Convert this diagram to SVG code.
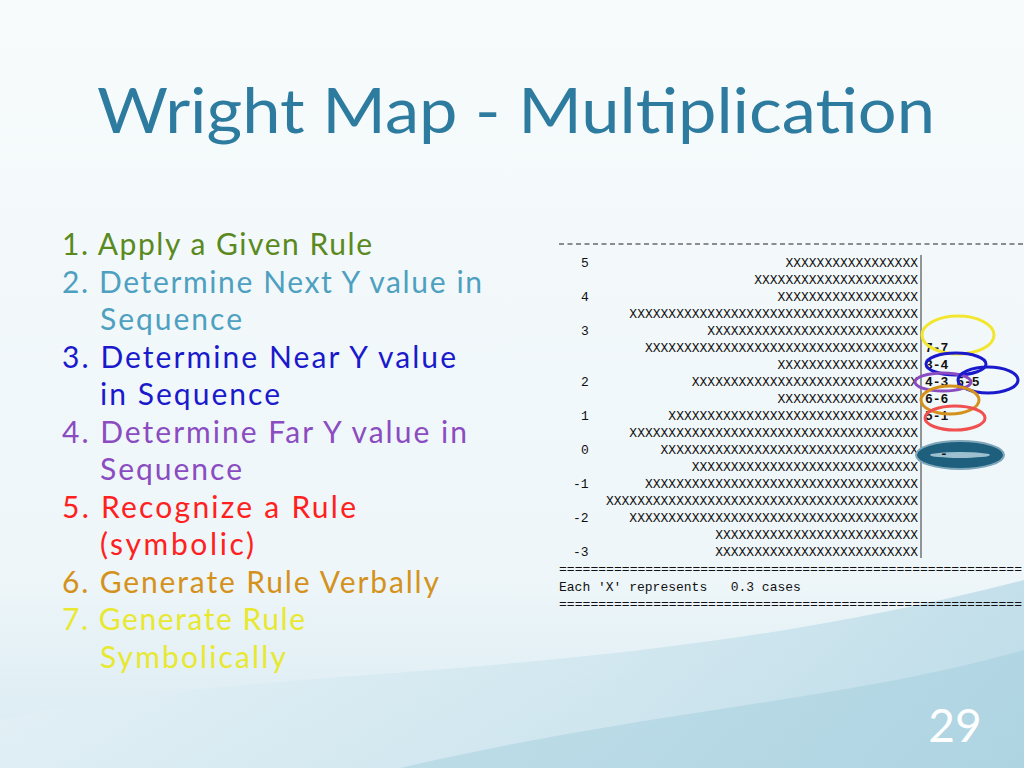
<svg xmlns="http://www.w3.org/2000/svg" width="1024" height="768" viewBox="0 0 1024 768">
<defs>
<linearGradient id="bg" x1="0" y1="0" x2="0" y2="1"><stop offset="0" stop-color="#f7fbfc"/><stop offset="0.75" stop-color="#eef6f9"/><stop offset="1" stop-color="#d7eaf1"/></linearGradient>
<linearGradient id="wave" x1="0" y1="0" x2="1" y2="0"><stop offset="0" stop-color="#e4f1f6"/><stop offset="0.6" stop-color="#c6e1ec"/><stop offset="1" stop-color="#a8d1e1"/></linearGradient>
<style>
.m{font-family:"Liberation Mono","DejaVu Sans Mono",monospace;font-size:13px;fill:#111}
.x{text-anchor:end}
.l{font-family:Lato,"Open Sans",sans-serif;font-size:30px}
.e{fill:none;stroke-width:3}
</style>
</defs>
<rect width="1024" height="768" fill="url(#bg)"/>
<path d="M0 720 C250 660 600 690 1024 580 L1024 768 L0 768 Z" fill="url(#wave)" opacity="0.6"/>
<path d="M400 768 C650 710 850 700 1024 650 L1024 768 Z" fill="#9fcbdc" opacity="0.45"/>
<text x="97" y="133" font-family="Lato,'Open Sans',sans-serif" font-size="62" fill="#2e7ba0" textLength="838" lengthAdjust="spacingAndGlyphs">Wright Map - Multiplication</text>
<g id="list" class="l">
<text x="62" y="255" fill="#5a8a1e" textLength="310">1. Apply a Given Rule</text>
<text x="62" y="293" fill="#4ea0c0" textLength="420">2. Determine Next Y value in</text>
<text x="100" y="330" fill="#4ea0c0" textLength="142">Sequence</text>
<text x="62" y="368" fill="#1a1acc" textLength="394">3.  Determine Near Y value</text>
<text x="100" y="405" fill="#1a1acc" textLength="180">in Sequence</text>
<text x="62" y="443" fill="#8a4cc0" textLength="405">4.  Determine Far Y value in</text>
<text x="100" y="480" fill="#8a4cc0" textLength="142">Sequence</text>
<text x="62" y="518" fill="#ff2020" textLength="294">5.  Recognize a Rule</text>
<text x="100" y="555" fill="#ff2020" textLength="154">(symbolic)</text>
<text x="62" y="593" fill="#d4921c" textLength="377">6.  Generate Rule Verbally</text>
<text x="62" y="630" fill="#e8e830" textLength="243">7. Generate Rule</text>
<text x="100" y="668" fill="#e8e830" textLength="186">Symbolically</text>
</g>
<g id="map" class="m">
<line x1="559" y1="244" x2="1024" y2="244" stroke="#222" stroke-width="1.2" stroke-dasharray="5,3.5"/>
<text x="581" y="267">5</text><text x="581" y="301">4</text><text x="581" y="335">3</text><text x="581" y="386">2</text><text x="581" y="420">1</text><text x="581" y="454">0</text><text x="573" y="488">-1</text><text x="573" y="522">-2</text><text x="573" y="556">-3</text>
<g class="x">
<text x="918" y="267">XXXXXXXXXXXXXXXXX</text>
<text x="918" y="284">XXXXXXXXXXXXXXXXXXXXX</text>
<text x="918" y="301">XXXXXXXXXXXXXXXXXX</text>
<text x="918" y="318">XXXXXXXXXXXXXXXXXXXXXXXXXXXXXXXXXXXXX</text>
<text x="918" y="335">XXXXXXXXXXXXXXXXXXXXXXXXXXX</text>
<text x="918" y="352">XXXXXXXXXXXXXXXXXXXXXXXXXXXXXXXXXXX</text>
<text x="918" y="369">XXXXXXXXXXXXXXXXXX</text>
<text x="918" y="386">XXXXXXXXXXXXXXXXXXXXXXXXXXXXX</text>
<text x="918" y="403">XXXXXXXXXXXXXXXXXX</text>
<text x="918" y="420">XXXXXXXXXXXXXXXXXXXXXXXXXXXXXXXX</text>
<text x="918" y="437">XXXXXXXXXXXXXXXXXXXXXXXXXXXXXXXXXXXXX</text>
<text x="918" y="454">XXXXXXXXXXXXXXXXXXXXXXXXXXXXXXXXX</text>
<text x="918" y="471">XXXXXXXXXXXXXXXXXXXXXXXXXXXXX</text>
<text x="918" y="488">XXXXXXXXXXXXXXXXXXXXXXXXXXXXXXXXXXX</text>
<text x="918" y="505">XXXXXXXXXXXXXXXXXXXXXXXXXXXXXXXXXXXXXXXX</text>
<text x="918" y="522">XXXXXXXXXXXXXXXXXXXXXXXXXXXXXXXXXXXXX</text>
<text x="918" y="539">XXXXXXXXXXXXXXXXXXXXXXXXXX</text>
<text x="918" y="556">XXXXXXXXXXXXXXXXXXXXXXXXXX</text>
</g>
<line x1="921" y1="255" x2="921" y2="558" stroke="#333" stroke-width="1"/>
<g font-weight="bold"><text x="925" y="352">7-7</text><text x="925" y="369">3-4</text><text x="925" y="386" xml:space="preserve">4-3 5-5</text><text x="925" y="403">6-6</text><text x="925" y="420">5-1</text></g>
<text x="559" y="573" textLength="463" lengthAdjust="spacingAndGlyphs">===========================================================</text>
<text x="559" y="591" xml:space="preserve">Each 'X' represents   0.3 cases</text>
<text x="559" y="608" textLength="463" lengthAdjust="spacingAndGlyphs">===========================================================</text>
</g>
<g id="circles">
<ellipse class="e" cx="958" cy="335" rx="36" ry="19" stroke="#f2e630"/>
<ellipse class="e" cx="956" cy="364" rx="30" ry="11" stroke="#1a1acc"/>
<ellipse class="e" cx="943" cy="382" rx="28" ry="9" stroke="#8a4cc0"/>
<ellipse class="e" cx="988" cy="380" rx="30" ry="13" stroke="#1a1acc"/>
<ellipse class="e" cx="950" cy="400" rx="29" ry="14" stroke="#d4921c"/>
<ellipse class="e" cx="955" cy="418" rx="30" ry="12" stroke="#f05050"/>
<ellipse cx="960" cy="455" rx="44" ry="14" fill="#1f5f7e" stroke="#7fa6b8" stroke-width="2"/>
<ellipse cx="960" cy="455" rx="30" ry="3" fill="#9cc0d0"/>
<text x="940" y="458" class="m" font-weight="bold">-</text>
</g>
<text x="955" y="742" text-anchor="middle" font-family="Lato,'Open Sans',sans-serif" font-size="46" fill="#fff">29</text>
</svg>
